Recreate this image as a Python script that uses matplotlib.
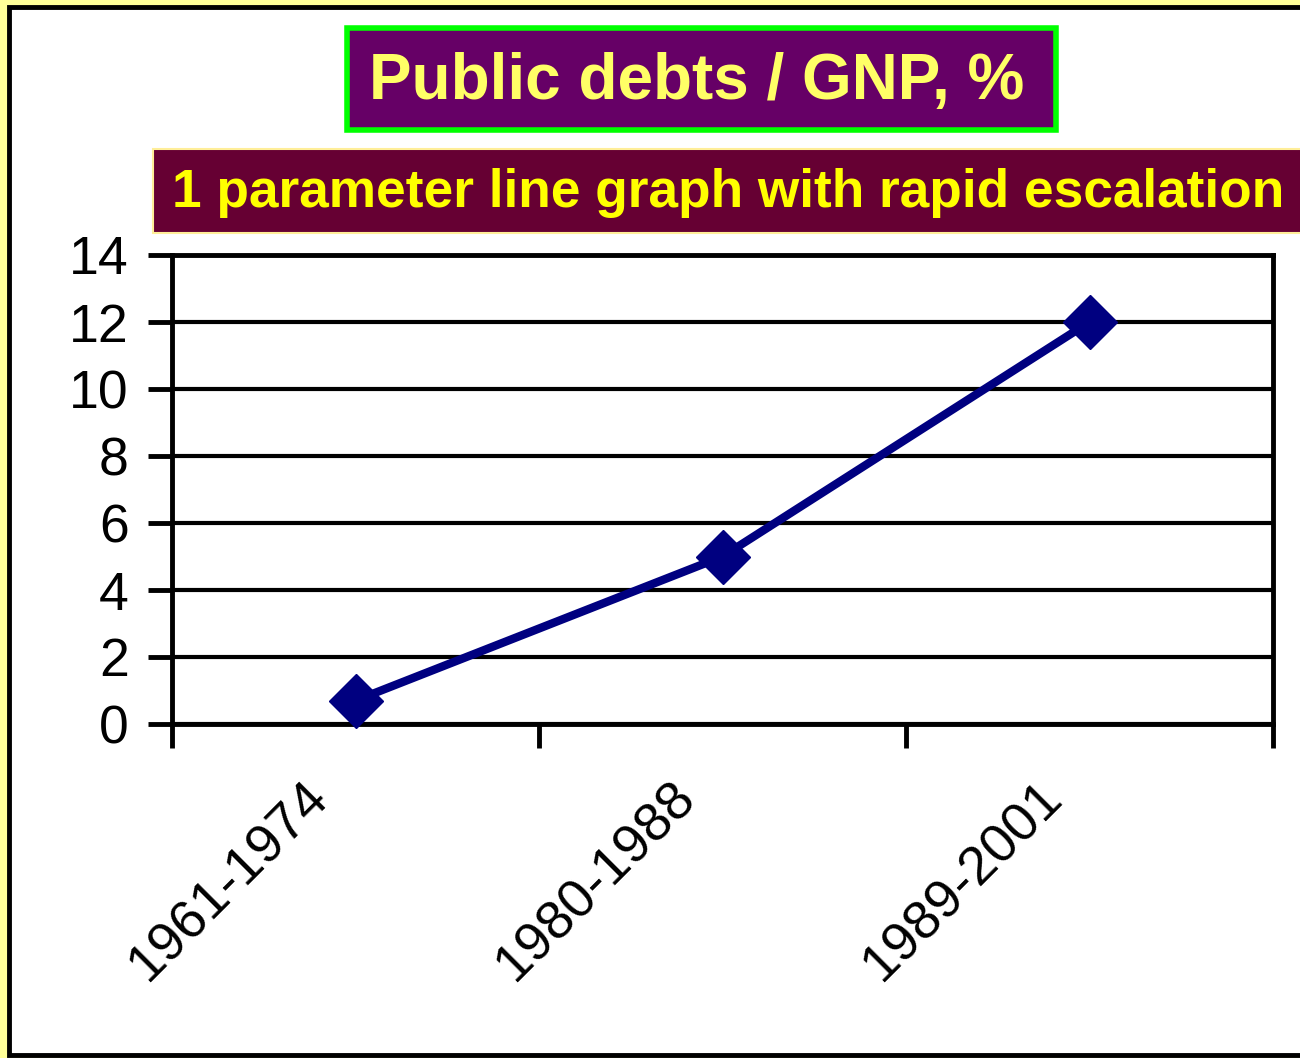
import matplotlib
matplotlib.use("Agg")
import matplotlib.pyplot as plt
from matplotlib.patches import Rectangle
from matplotlib.transforms import ScaledTranslation

# data
periods = ["1961-1974", "1980-1988", "1989-2001"]
debt_pct = [0.7, 5.0, 12.0]
y_ticks = [0, 2, 4, 6, 8, 10, 12, 14]

title = "Public debts / GNP, %"
subtitle = "1 parameter line graph with rapid escalation"

plt.rcParams["font.family"] = ["Liberation Sans", "DejaVu Sans"]

W, H = 1300, 1058
fig = plt.figure(figsize=(W / 100, H / 100), dpi=100, facecolor="#FFFF99")


def fx(px):
    return px / W


def fy(py):
    return 1 - py / H


# white panel with black frame
fig.patches.append(Rectangle((fx(9), fy(1055)), fx(1300), fy(7) - fy(1055),
                             transform=fig.transFigure, facecolor="white",
                             edgecolor="black", linewidth=3.5, zorder=-5))

# title box
fig.patches.append(Rectangle((fx(347), fy(130)), fx(1056) - fx(347), fy(28) - fy(130),
                             transform=fig.transFigure, facecolor="#660066",
                             edgecolor="#00FF00", linewidth=4, zorder=1))
fig.text(fx(697), fy(82), title, ha="center", va="center", fontsize=46,
         fontweight="bold", color="#FFFF66", zorder=2)

# subtitle box
fig.patches.append(Rectangle((fx(153), fy(233)), fx(1310) - fx(153), fy(149) - fy(233),
                             transform=fig.transFigure, facecolor="#660033",
                             edgecolor="#FFEE99", linewidth=1.5, zorder=1))
fig.text(fx(728), fy(193), subtitle, ha="center", va="center", fontsize=38.3,
         fontweight="bold", color="#FFFF00", zorder=2)

ax = fig.add_axes([fx(172), fy(724), fx(1273) - fx(172), fy(255) - fy(724)])
ax.set_zorder(3)
ax.set_facecolor("white")

x = list(range(len(periods)))
ax.plot(x, debt_pct, color="#000080", linewidth=6, marker="D", markersize=27,
        zorder=3, clip_on=False)

ax.set_xlim(-0.5, len(periods) - 0.5)
ax.set_ylim(0, 14)
ax.set_yticks(y_ticks)
ax.set_yticklabels([str(v) for v in y_ticks], fontsize=38.5)
ax.yaxis.grid(True, color="black", linewidth=3)
ax.set_axisbelow(True)

# boundary ticks between categories, labels placed as rotated text
ax.set_xticks([i - 0.5 for i in range(len(periods) + 1)])
ax.set_xticklabels([])
lab_tr = ax.get_xaxis_transform() + ScaledTranslation(-0.52, -0.48, fig.dpi_scale_trans)
for i, name in enumerate(periods):
    ax.text(i, 0, name, transform=lab_tr, rotation=45, ha="right", va="top",
            rotation_mode="anchor", fontsize=39, clip_on=False)

ax.tick_params(axis="both", which="major", length=17, width=3.5, direction="out")
ax.tick_params(axis="y", pad=14)

for side in ["left", "right", "top", "bottom"]:
    ax.spines[side].set_linewidth(3.5)
    ax.spines[side].set_color("black")

fig.savefig("out.png", dpi=100, facecolor=fig.get_facecolor())
